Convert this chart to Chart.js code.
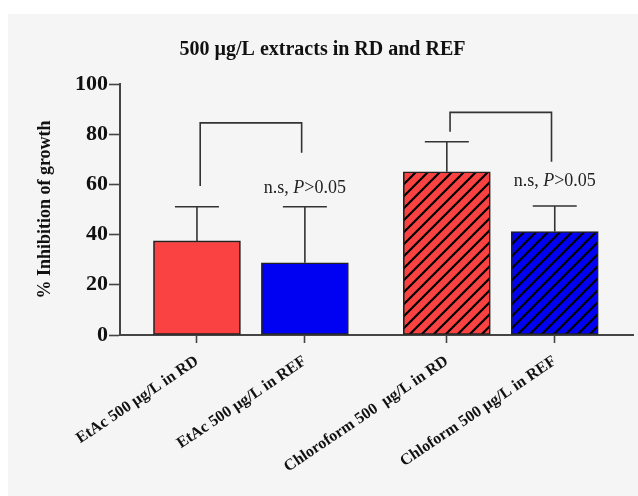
<!DOCTYPE html>
<html>
<head>
<meta charset="utf-8">
<script src="https://cdn.jsdelivr.net/npm/chart.js@4.4.1/dist/chart.umd.min.js"></script>
<style>
html,body{margin:0;padding:0;background:#fff;}
#wrap{width:638px;height:496px;position:relative;}
</style>
</head>
<body>
<div id="wrap"><canvas id="c"></canvas></div>
<script>
// ---- data ----
const categories = ['EtAc 500 \u00b5g/L in RD', 'EtAc 500 \u00b5g/L in REF', 'Chloroform 500  \u00b5g/L in RD', 'Chloform 500 \u00b5g/L in REF'];
const meanValues = [37.5, 28.8, 65.0, 41.2];
const errorValues = [13.6, 22.3, 12.0, 10.2];
const yTicks = [0, 20, 40, 60, 80, 100];
const groups = [0, 0, 1, 1];
const hatched = [false, false, true, true];
const barColors = ['#fa4242', '#0000f2', '#fa4242', '#0000f2'];
const titleText = '500 \u00b5g/L extracts in RD and REF';
const yTitle = '% Inhibition of growth';
// comparison brackets: [leftIndex, rightIndex, topY, leftEndY, rightEndY]
const brackets = [[0, 1, 84.5, 59.4, 72.6], [2, 3, 88.7, 81.0, 69.0]];
// significance labels: [index, yValue]
const sigLabels = [[1, 58.6], [3, 61.3]];
const sigText = ['n.s, ', 'P', '>0.05'];

// x positions: one unit per bar, extra gap between groups
const GROUP_GAP = 0.315;
const xPos = categories.map((_, i) => i + groups[i] * GROUP_GAP);

function hatch(color) {
  const s = 12;
  const c = document.createElement('canvas');
  c.width = s; c.height = s;
  const g = c.getContext('2d');
  g.fillStyle = color; g.fillRect(0, 0, s, s);
  g.strokeStyle = '#000'; g.lineWidth = 2.2;
  g.beginPath();
  g.moveTo(-1, s + 1); g.lineTo(s + 1, -1);
  g.moveTo(-4, 4); g.lineTo(4, -4);
  g.moveTo(s - 4, s + 4); g.lineTo(s + 4, s - 4);
  g.stroke();
  return g.createPattern(c, 'repeat');
}
const fills = barColors.map((c, i) => hatched[i] ? hatch(c) : c);

const serif = '"Liberation Serif", "Times New Roman", serif';

const bgPlugin = {
  id: 'bg',
  beforeDraw(chart) {
    const ctx = chart.ctx;
    ctx.save();
    ctx.fillStyle = '#ffffff';
    ctx.fillRect(0, 0, chart.width, chart.height);
    ctx.fillStyle = '#f5f5f5';
    ctx.fillRect(8, 14, chart.width - 8, chart.height - 14);
    ctx.restore();
  }
};

const extrasPlugin = {
  id: 'extras',
  afterDatasetsDraw(chart) {
    const ctx = chart.ctx;
    const xs = chart.scales.x, ys = chart.scales.y;
    ctx.save();
    ctx.strokeStyle = '#333';
    ctx.lineWidth = 1.6;
    // error bars (upper only)
    meanValues.forEach((v, i) => {
      const x = xs.getPixelForValue(xPos[i]);
      const y0 = ys.getPixelForValue(v);
      const y1 = ys.getPixelForValue(v + errorValues[i]);
      ctx.beginPath();
      ctx.moveTo(x, y0); ctx.lineTo(x, y1);
      ctx.moveTo(x - 22, y1); ctx.lineTo(x + 22, y1);
      ctx.stroke();
    });
    // brackets
    brackets.forEach(b => {
      const xl = xs.getPixelForValue(xPos[b[0]] + 0.03);
      const xr = xs.getPixelForValue(xPos[b[1]] - 0.03);
      const yt = ys.getPixelForValue(b[2]);
      ctx.beginPath();
      ctx.moveTo(xl, ys.getPixelForValue(b[3]));
      ctx.lineTo(xl, yt);
      ctx.lineTo(xr, yt);
      ctx.lineTo(xr, ys.getPixelForValue(b[4]));
      ctx.stroke();
    });
    // significance labels
    ctx.fillStyle = '#222';
    ctx.textBaseline = 'middle';
    const normal = '18px ' + serif, italic = 'italic 18px ' + serif;
    sigLabels.forEach(s => {
      const fonts = [normal, italic, normal];
      let w = 0;
      sigText.forEach((t, k) => { ctx.font = fonts[k]; w += ctx.measureText(t).width; });
      let x = xs.getPixelForValue(xPos[s[0]]) - w / 2;
      const y = ys.getPixelForValue(s[1]);
      sigText.forEach((t, k) => {
        ctx.font = fonts[k];
        ctx.textAlign = 'left';
        ctx.fillText(t, x, y);
        x += ctx.measureText(t).width;
      });
    });
    ctx.restore();
  }
};

new Chart(document.getElementById('c'), {
  type: 'bar',
  data: {
    datasets: [{
      data: meanValues.map((v, i) => ({ x: xPos[i], y: v })),
      backgroundColor: fills,
      borderColor: '#222',
      borderWidth: 1.6,
      borderSkipped: false,
      barThickness: 87
    }]
  },
  options: {
    responsive: true,
    maintainAspectRatio: false,
    animation: false,
    layout: { padding: { left: 12, right: 5, top: 0, bottom: 0 } },
    plugins: {
      legend: { display: false },
      tooltip: { enabled: false },
      title: {
        display: true,
        text: titleText,
        color: '#111',
        font: { family: serif, size: 20, weight: 'bold' },
        padding: { top: 38, bottom: 22 }
      }
    },
    scales: {
      x: {
        type: 'linear',
        offset: false,
        min: -0.713,
        max: 3.315 + 0.725,
        afterBuildTicks(s) { s.ticks = xPos.map(v => ({ value: v })); },
        afterFit(s) { s.height = 161; },
        ticks: {
          autoSkip: false,
          minRotation: 34,
          maxRotation: 34,
          padding: 9,
          color: '#111',
          font: { family: serif, size: 16, weight: 'bold' },
          callback: (v, i) => categories[i]
        },
        grid: { drawOnChartArea: false, offset: false, tickLength: 8, tickColor: '#444', tickWidth: 1.6 },
        border: { color: '#444', width: 2 }
      },
      y: {
        min: 0,
        max: 100,
        afterBuildTicks(s) { s.ticks = yTicks.map(v => ({ value: v })); },
        afterFit(s) { s.width = 108; },
        ticks: {
          color: '#111',
          padding: 1,
          font: { family: serif, size: 22, weight: 'bold' }
        },
        grid: { drawOnChartArea: false, tickLength: 11, tickColor: '#444', tickWidth: 1.6 },
        border: { color: '#444', width: 2 },
        title: {
          display: true,
          text: yTitle,
          color: '#111',
          font: { family: serif, size: 18, weight: 'bold' },
          padding: { top: 23, bottom: 0 }
        }
      }
    }
  },
  plugins: [bgPlugin, extrasPlugin]
});
</script>
</body>
</html>
